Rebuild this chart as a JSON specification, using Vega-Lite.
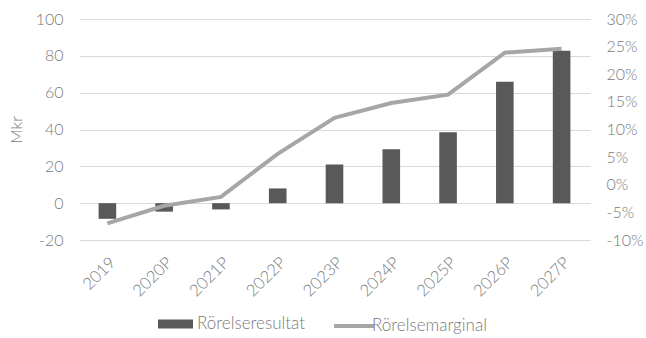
{
  "$schema": "https://vega.github.io/schema/vega-lite/v6.json",
  "width": 511,
  "height": 221,
  "autosize": {"type": "none"},
  "padding": {"left": 79, "top": 19, "right": 56, "bottom": 98},
  "background": "white",
  "config": {
    "font": "Lato",
    "view": {"stroke": null},
    "axis": {"labelFont": "Lato", "labelFontWeight": 300, "labelColor": "#7a7a7a", "titleFont": "Lato", "titleFontWeight": 300, "titleColor": "#7a7a7a", "domain": false, "ticks": false},
    "legend": {"labelFont": "Lato", "labelFontWeight": 300, "labelColor": "#7a7a7a"}
  },
  "data": {
    "values": [
      {"year": "2019", "resultat": -8.5, "marginal": -0.070},
      {"year": "2020P", "resultat": -4.6, "marginal": -0.038},
      {"year": "2021P", "resultat": -3.4, "marginal": -0.022},
      {"year": "2022P", "resultat": 8.0, "marginal": 0.056},
      {"year": "2023P", "resultat": 21.0, "marginal": 0.121},
      {"year": "2024P", "resultat": 29.3, "marginal": 0.148},
      {"year": "2025P", "resultat": 38.5, "marginal": 0.163},
      {"year": "2026P", "resultat": 65.9, "marginal": 0.239},
      {"year": "2027P", "resultat": 82.7, "marginal": 0.246}
    ]
  },
  "encoding": {
    "x": {
      "field": "year", "type": "ordinal", "sort": null,
      "scale": {"paddingInner": 0.69, "paddingOuter": 0.345},
      "axis": {"title": null, "labelAngle": -45, "labelFontSize": 16.5, "labelPadding": 14, "grid": false}
    }
  },
  "layer": [
    {
      "mark": {"type": "bar"},
      "encoding": {
        "y": {
          "field": "resultat", "type": "quantitative",
          "scale": {"domain": [-20, 100], "nice": false},
          "axis": {"title": "Mkr", "titleFontSize": 16, "titlePadding": 11, "values": [-20, 0, 20, 40, 60, 80, 100], "labelFontSize": 16, "labelPadding": 16, "grid": true, "gridColor": "#d9d9d9", "gridWidth": 1, "labelExpr": "replace(datum.label, '−', '-')"}
        },
        "fill": {
          "datum": "Rörelseresultat", "type": "nominal",
          "scale": {"range": ["#595959"]},
          "legend": {"title": null, "orient": "none", "legendX": 79, "legendY": 287.5, "symbolType": "M-1,-0.26H1V0.26H-1Z", "symbolSize": 1225, "symbolStrokeWidth": 0, "labelFontSize": 17, "labelOffset": 4, "padding": 0}
        }
      }
    },
    {
      "mark": {"type": "line", "strokeWidth": 4},
      "encoding": {
        "y": {
          "field": "marginal", "type": "quantitative",
          "scale": {"domain": [-0.1, 0.3], "nice": false},
          "axis": {"title": null, "orient": "right", "values": [-0.1, -0.05, 0, 0.05, 0.1, 0.15, 0.2, 0.25, 0.3], "format": ".0%", "labelFontSize": 16, "labelPadding": 16, "grid": false, "labelExpr": "replace(datum.label, '−', '-')"}
        },
        "stroke": {
          "datum": "Rörelsemarginal", "type": "nominal",
          "scale": {"range": ["#a6a6a6"]},
          "legend": {"title": null, "orient": "none", "legendX": 253, "legendY": 285, "symbolType": "stroke", "symbolSize": 1600, "symbolStrokeWidth": 4, "labelFontSize": 17, "labelOffset": -4, "padding": 0}
        }
      }
    }
  ],
  "resolve": {"scale": {"y": "independent"}}
}
